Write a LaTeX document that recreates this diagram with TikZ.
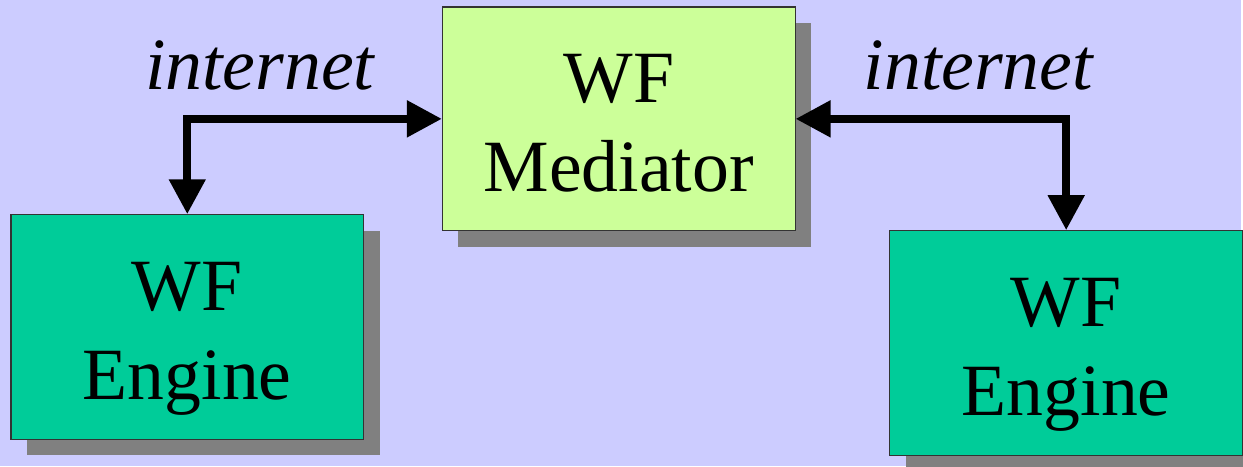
\documentclass[tikz,border=0pt]{standalone}
\usepackage{fontspec}
\setmainfont{Liberation Serif}
\usepackage{xcolor}
\usetikzlibrary{arrows.meta,shadows}

\definecolor{bgblue}{HTML}{CCCCFF}
\definecolor{medgreen}{HTML}{CCFF99}
\definecolor{enggreen}{HTML}{00CC99}
\definecolor{shadegray}{HTML}{808080}

\begin{document}
\begin{tikzpicture}
			\tikzstyle{box} = [draw=black!80, line width=0.6pt, minimum width=7.06cm, minimum height=4.48cm, align=center, font=\fontsize{42}{51}\selectfont, text height=83pt, text depth=0pt, drop shadow={shadow xshift=0.32cm, shadow yshift=-0.32cm, fill=shadegray, opacity=1}]
			\tikzstyle{mediatorbox} = [box, fill=medgreen]
			\tikzstyle{enginebox} = [box, fill=enggreen, minimum height=4.5cm]
			\tikzstyle{net} = [anchor=base, font=\fontsize{42}{51}\selectfont\itshape]
			\tikzset{link/.style = {line width=0.16cm, {Triangle[length=0.7cm,width=0.7cm]}-{Triangle[length=0.7cm,width=0.7cm]}}}
			
			\fill[bgblue] (0,0) rectangle (24.86,9.34);
			
			\node[mediatorbox](mediator) at (12.39,6.96) {WF\\Mediator};
			\node[enginebox](engine1) at (3.75,2.79) {WF\\Engine};
			\node[enginebox](engine2) at (21.35,2.47) {WF\\Engine};
			
			\draw[link](engine1) |- (mediator);
			\draw[link](engine2) |- (mediator);
			
			\node[net](net1) at (5.2,7.54) {internet};
			\node[net](net2) at (19.59,7.54) {internet};
			
			\end{tikzpicture}
\end{document}
